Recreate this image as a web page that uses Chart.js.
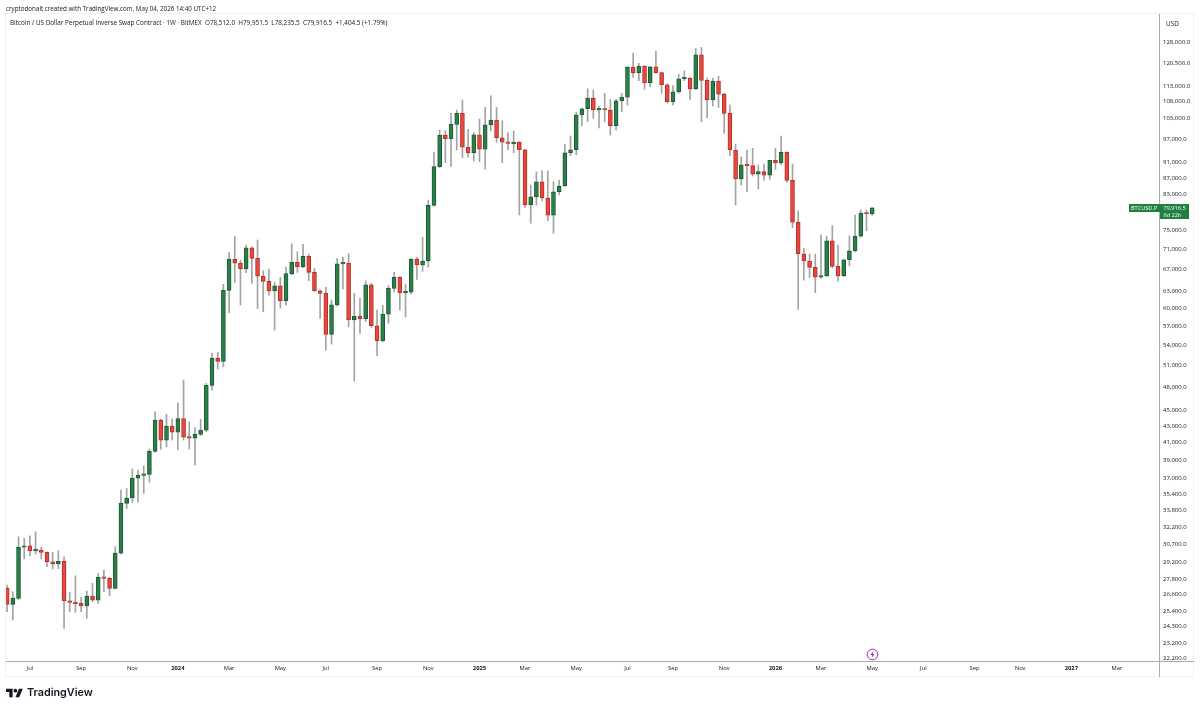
<!DOCTYPE html>
<html>
<head>
<meta charset="utf-8">
<title>BTCUSD.P 1W</title>
<script src="https://cdn.jsdelivr.net/npm/chart.js@4/dist/chart.umd.min.js"></script>
<style>
  html, body { margin: 0; padding: 0; background: #fff; }
  #wrap { position: relative; width: 1200px; height: 709px; overflow: hidden; font-family: "Open Sans", sans-serif; color: #131722; }
  #wrap div, #wrap svg { position: absolute; white-space: nowrap; }
  #byline { left: 6px; top: 4px; font-size: 6.25px; line-height: 9px; }
  #legend { left: 10px; top: 18px; font-size: 6.35px; line-height: 9px; }
  #unit { left: 1166px; top: 19px; font-size: 6.4px; line-height: 9px; }
  #brand { left: 27px; top: 685px; font-family: Inter, sans-serif; font-weight: 600; font-size: 10.8px; line-height: 16px; color: #131722; }
</style>
</head>
<body>
<div id="wrap">
  <canvas id="chart" width="1200" height="709"></canvas>
  <div id="byline">cryptodonalt created with TradingView.com, May 04, 2026 14:40 UTC+12</div>
  <div id="legend">Bitcoin / US Dollar Perpetual Inverse Swap Contract · 1W · BitMEX&nbsp; O78,512.0&nbsp; H79,951.5&nbsp; L78,235.5&nbsp; C79,916.5&nbsp; +1,404.5 (+1.79%)</div>
  <div id="unit">USD</div>
  <svg style="left:6px;top:688px" width="17" height="10" viewBox="0 3.5 36 19"><path fill="#131722" d="M14 22H7V11H0V4h14v18zM28 22h-8l7.5-18h8L28 22z"/><circle fill="#131722" cx="20" cy="8" r="4"/></svg>
  <div id="brand">TradingView</div>
  <svg style="left:866px;top:648px" width="13" height="13" viewBox="0 0 13 13"><circle cx="6.5" cy="6.5" r="5.3" fill="#fff" stroke="#9c27b0" stroke-width="1"/><path fill="#9c27b0" d="M7.2 3 4.6 7h1.7l-.6 3 2.7-4.1H6.7z"/></svg>
</div>
<script>
// Weekly candles, one per week from the week of 5 Jun 2023 to 4 May 2026
var opens = [
  27090, 25890, 26330, 30450, 30580, 30130, 30210, 30010, 29220, 29030,
  29250, 26150, 26030, 25960, 25780, 26500, 26200, 27950, 27870, 27090,
  29950, 34490, 35020, 37060, 37350, 37460, 39990, 43710, 41290, 42980,
  42240, 43880, 41640, 41530, 41960, 42480, 48230, 52130, 51640, 63200,
  69000, 68290, 67140, 71330, 69220, 65780, 64830, 63070, 64000, 61350,
  66260, 68420, 67570, 69600, 66500, 63120, 62660, 55760, 60630, 68140,
  68290, 58080, 58690, 58320, 64210, 57140, 54760, 59070, 63560, 65570,
  62770, 62890, 69000, 67910, 68700, 80460, 89810, 98170, 97240, 101290,
  104510, 94900, 93430, 98340, 94370, 101170, 102540, 97500, 96320, 95900,
  96250, 94240, 80590, 82440, 86050, 82160, 78270, 83640, 85020, 93430,
  94240, 104060, 105880, 109180, 105570, 105650, 105500, 100880, 108330, 109400,
  119200, 117340, 119540, 114010, 119300, 117340, 113360, 108020, 111140, 115320,
  115500, 112000, 123450, 114790, 108630, 114470, 110400, 104510, 94160, 86710,
  90300, 90100, 87950, 88540, 87700, 91440, 90750, 93550, 86380, 76730,
  70120, 68690, 67460, 65620, 65850, 72770, 67650, 65850, 68940, 70720,
  73730, 78650, 78512
];
var highs = [
  27350, 26830, 31370, 31230, 31460, 31820, 30450, 30060, 30010, 30150,
  29640, 26780, 28080, 26400, 26880, 27480, 28270, 28540, 27950, 30500,
  35820, 35990, 38030, 37920, 38380, 40250, 44750, 43800, 44420, 43840,
  45910, 48970, 43500, 42770, 43800, 48500, 52830, 52980, 64290, 70400,
  73640, 68880, 71870, 71530, 72910, 66820, 67140, 64650, 65570, 67570,
  72120, 70520, 72050, 70040, 67270, 63300, 63750, 61470, 69220, 69420,
  70120, 62660, 61770, 64940, 64460, 59750, 60570, 64050, 66500, 65700,
  64330, 69220, 69420, 73500, 81680, 93630, 99670, 99470, 104510, 105500,
  108540, 99870, 98920, 102830, 106320, 109870, 106320, 102330, 98920, 99390,
  96500, 94370, 85250, 88540, 88790, 88710, 86050, 86460, 95690, 98000,
  104800, 106100, 112070, 111670, 106690, 110640, 108750, 108750, 110640, 119400,
  123950, 120470, 119700, 119400, 124650, 117500, 113700, 113080, 116830, 117900,
  115700, 125700, 126050, 115500, 115500, 116150, 110700, 107000, 95770, 92350,
  94160, 94630, 90230, 90500, 91500, 94630, 98000, 93700, 90500, 79240,
  71210, 70050, 70050, 73960, 73730, 75950, 71870, 69080, 73820, 78280,
  79400, 79400, 79951.5
];
var lows = [
  25350, 24760, 26250, 29450, 29700, 29870, 29450, 28810, 28620, 28650,
  24180, 25350, 25300, 25350, 24880, 26100, 25960, 26830, 26530, 27050,
  29850, 33970, 34550, 34620, 35490, 36640, 39900, 40220, 40510, 41290,
  40220, 41290, 40220, 38460, 41840, 42270, 47600, 50520, 50850, 59310,
  64650, 60630, 66450, 64460, 59970, 59460, 62350, 56450, 60090, 60570,
  66080, 66500, 67400, 64940, 63000, 58360, 53330, 54240, 60400, 63430,
  56970, 48830, 55920, 57810, 56900, 52470, 54600, 57530, 62890, 59750,
  58610, 62520, 65200, 66700, 67500, 80300, 89600, 90830, 89850, 94160,
  92110, 92240, 91260, 91080, 89140, 99470, 96240, 90830, 94160, 93440,
  78280, 80010, 76470, 80540, 81500, 77020, 74310, 82900, 84900, 92670,
  92900, 100930, 102040, 103050, 100300, 102040, 98250, 99670, 105000, 107000,
  115740, 114660, 111890, 112700, 117140, 110640, 107550, 106990, 110640, 114660,
  108540, 111800, 102040, 103240, 106690, 106250, 98760, 92670, 80540, 85240,
  83640, 87450, 84280, 86460, 86630, 89140, 90230, 85900, 75510, 59870,
  65070, 65500, 62770, 65400, 65700, 67400, 64880, 65700, 67760, 70500,
  73500, 74870, 78235.5
];
var closes = [
  25890, 26330, 30450, 30580, 30130, 30210, 30010, 29220, 29030, 29250,
  26150, 26030, 25930, 25780, 26500, 26200, 27950, 27870, 27090, 29950,
  34490, 35020, 37060, 37350, 37460, 39990, 43710, 41290, 42980, 42240,
  43880, 41640, 41530, 41960, 42480, 48230, 52130, 51640, 63200, 69000,
  68290, 67140, 71330, 69220, 65780, 64830, 63070, 64000, 61350, 66260,
  68420, 67570, 69600, 66500, 63120, 62660, 55760, 60630, 68140, 68290,
  58080, 58690, 58320, 64210, 57140, 54760, 59070, 63560, 65570, 62740,
  62890, 69000, 67910, 68700, 80460, 89810, 98170, 97240, 101290, 104510,
  94900, 93430, 98340, 94370, 101170, 102540, 97500, 96320, 95970, 96250,
  94240, 80590, 82440, 86050, 82160, 78270, 83640, 85020, 93430, 94240,
  104060, 105880, 109180, 105570, 105650, 105500, 100880, 108330, 109400, 119200,
  117340, 119540, 114010, 119300, 117340, 113360, 108020, 111140, 115320, 115500,
  112000, 123450, 114790, 108630, 114470, 110400, 104510, 94160, 86710, 90300,
  90100, 87950, 88540, 87700, 91440, 90750, 93550, 86380, 76730, 70120,
  68690, 67460, 65620, 65850, 72770, 67650, 65850, 68940, 70720, 73730,
  78650, 78512, 79916.5
];

// Time axis: candle number of each labelled week, and its label
var tickWeeks = [4, 13, 22, 30, 39, 48, 56, 65, 74, 83, 91, 100, 109, 117, 126, 135, 143, 152, 161, 170, 178, 187, 195];
var tickLabels = ["Jul", "Sep", "Nov", "2024", "Mar", "May", "Jul", "Sep", "Nov", "2025", "Mar", "May", "Jul", "Sep", "Nov", "2026", "Mar", "May", "Jul", "Sep", "Nov", "2027", "Mar"];

var priceTicks = [128000, 120500, 113000, 108000, 103000, 97000, 91000, 87000, 83000, 75000, 71000, 67000, 63000, 60000, 57000, 54000, 51000, 48000, 45000, 43000, 41000, 39000, 37000, 35400, 33800, 32200, 30700, 29200, 27800, 26600, 25400, 24300, 23200, 22200];

var GREEN = "#2b7f49", GREEN_EDGE = "#1c5b33";
var RED = "#e8473f", RED_EDGE = "#b3302a";
var AXIS = "#a9abb3", FRAME = "#f1f2f4", TEXT = "#131722", TAG = "#1f8040";

function isUp(i) {
  return closes[i] >= opens[i];
}

var wicks = highs.map(function (hi, i) {
  return { x: i, y: [lows[i], hi] };
});
var bodies = opens.map(function (o, i) {
  return { x: i, y: [Math.min(o, closes[i]), Math.max(o, closes[i])] };
});

// Axis lines run on past the plot into the panel, and the last-price tag sits across the price axis
var panelPlugin = {
  id: "panel",
  afterDraw: function (chart) {
    var ctx = chart.ctx, a = chart.chartArea;
    var right = 1194, bottom = 677;
    ctx.save();
    ctx.strokeStyle = FRAME;
    ctx.lineWidth = 1;
    ctx.strokeRect(a.left - 0.5, a.top - 0.5, right - a.left, bottom - a.top);
    ctx.strokeStyle = AXIS;
    ctx.beginPath();
    ctx.moveTo(a.left, a.bottom + 0.5);
    ctx.lineTo(right, a.bottom + 0.5);
    ctx.moveTo(a.right + 0.5, a.top);
    ctx.lineTo(a.right + 0.5, bottom);
    ctx.stroke();

    var last = closes[closes.length - 1];
    var y = chart.scales.y.getPixelForValue(last);
    var top = Math.round(y) - 4;
    ctx.fillStyle = TAG;
    ctx.fillRect(1129, top, 31, 8);
    ctx.fillRect(1160, top, 29, 15);
    ctx.fillStyle = "#fff";
    ctx.font = '5.6px "Open Sans"';
    ctx.textBaseline = "middle";
    ctx.textAlign = "left";
    ctx.fillText("BTCUSD.P", 1131, top + 4);
    ctx.fillText(last.toLocaleString("en-US", { minimumFractionDigits: 1 }), 1163.5, top + 4);
    ctx.fillText("6d 22h", 1163.5, top + 11);
    ctx.restore();
  },
};

new Chart(document.getElementById("chart"), {
  type: "bar",
  plugins: [panelPlugin],
  data: {
    datasets: [
      {
        data: bodies,
        barThickness: 4,
        minBarLength: 1.5,
        grouped: false,
        clip: false,
        order: 1,
        borderWidth: 1,
        borderSkipped: false,
        backgroundColor: opens.map(function (o, i) { return isUp(i) ? GREEN : RED; }),
        borderColor: opens.map(function (o, i) { return isUp(i) ? GREEN_EDGE : RED_EDGE; }),
      },
      {
        data: wicks,
        barThickness: 1,
        grouped: false,
        order: 2,
        borderWidth: 0,
        backgroundColor: "#a3a3a3",
      },
    ],
  },
  options: {
    responsive: false,
    animation: false,
    events: [],
    layout: { padding: { left: 6, top: 14, right: 6, bottom: 32 } },
    plugins: { legend: { display: false }, tooltip: { enabled: false } },
    scales: {
      x: {
        type: "linear",
        offset: false,
        min: -0.2,
        max: 202.4,
        bounds: "data",
        grid: { display: false, drawTicks: false },
        border: { display: false },
        afterFit: function (scale) { scale.height = 16; },
        afterBuildTicks: function (scale) {
          scale.ticks = tickWeeks.map(function (w) { return { value: w }; });
        },
        ticks: {
          autoSkip: false,
          maxRotation: 0,
          padding: 4,
          color: TEXT,
          font: function (c) {
            var isYear = /^\d+$/.test(tickLabels[c.index]);
            return { family: "Open Sans", size: 5.8, weight: isYear ? "bold" : "normal" };
          },
          callback: function (value, index) { return tickLabels[index]; },
        },
      },
      y: {
        type: "logarithmic",
        position: "right",
        min: 22037,
        max: 138610,
        bounds: "data",
        grid: { display: false, drawTicks: false },
        border: { display: false },
        afterFit: function (scale) { scale.width = 35; },
        afterBuildTicks: function (scale) {
          scale.ticks = priceTicks.map(function (p) { return { value: p }; });
        },
        ticks: {
          autoSkip: false,
          padding: 4,
          color: TEXT,
          font: { family: "Open Sans", size: 6 },
          callback: function (value) {
            return value.toLocaleString("en-US", { minimumFractionDigits: 1 });
          },
        },
      },
    },
  },
});
</script>
</body>
</html>
